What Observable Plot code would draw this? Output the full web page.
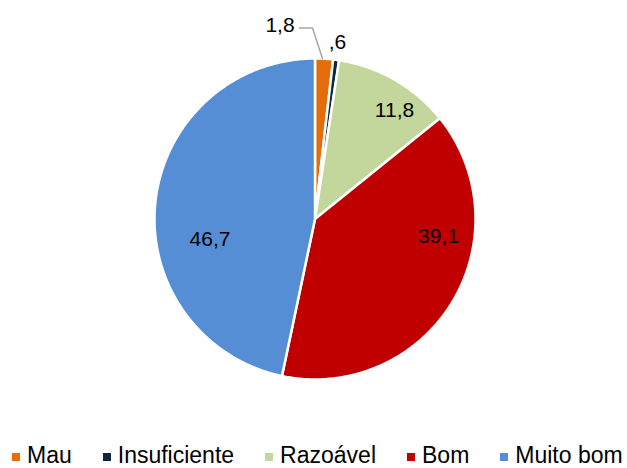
<!DOCTYPE html>
<html>
<head>
<meta charset="utf-8">
<script src="https://cdn.jsdelivr.net/npm/d3@7"></script>
<script src="https://cdn.jsdelivr.net/npm/@observablehq/plot@0.6"></script>
<style>
  html, body { margin: 0; padding: 0; background: #fff; }
  #wrap { position: relative; width: 627px; height: 468px; overflow: hidden; font-family: "Liberation Sans", Arial, sans-serif; }
  #legend { position: absolute; left: 12px; top: 442px; width: max-content; height: 26px; line-height: 26px; display: flex; align-items: center; font-size: 23px; color: #000; white-space: nowrap; }
  #legend .item { display: flex; align-items: center; flex-shrink: 0; margin-right: 31px; }
  #legend .item:last-child { margin-right: 0; }
  #legend .sw { width: 8px; height: 8px; margin-right: 7px; margin-top: 4px; flex-shrink: 0; }
</style>
</head>
<body>
<div id="wrap">
  <div id="chart"></div>
  <div id="legend"></div>
</div>
<script>
// ---- data ----
const categories = ["Mau", "Insuficiente", "Razoável", "Bom", "Muito bom"];
const values = [1.8, 0.6, 11.8, 39.1, 46.7];
const valueLabels = ["1,8", ",6", "11,8", "39,1", "46,7"];
const colors = ["#E46C0A", "#10253F", "#C3D69B", "#C00000", "#558ED5"];

// ---- layout ----
const W = 627, H = 440;
const cx = 314.5, cy = 218.5, R = 160.5;
// label placement (pixel offsets from the pie centre, y up), as moved in the original
const labelOffset = {
  "Mau": [-35, 194],
  "Insuficiente": [22.5, 177],
  "Razoável": [79.5, 108.5],
  "Bom": [123.5, -17],
  "Muito bom": [-105, -20.5]
};

const pie = d3.pie().sort(null).value(d => d)(values);

// slice polygons in pie-centred coordinates (y up)
const slicePts = [];
pie.forEach((p, i) => {
  const cat = categories[i];
  slicePts.push({cat, x: 0, y: 0});
  const n = Math.max(2, Math.ceil((p.endAngle - p.startAngle) / (Math.PI / 360)));
  for (let k = 0; k <= n; k++) {
    const a = p.startAngle + (p.endAngle - p.startAngle) * k / n;
    slicePts.push({cat, x: R * Math.sin(a), y: R * Math.cos(a)});
  }
  slicePts.push({cat, x: 0, y: 0});
});

const labels = categories.map((c, i) => ({cat: c, text: valueLabels[i], x: labelOffset[c][0], y: labelOffset[c][1]}));

// leader line for the small "Mau" slice: label right edge -> slice mid-arc
const mau = pie[0];
const midA = (mau.startAngle + mau.endAngle) / 2;
const lo = labelOffset["Mau"];
const leader = [
  {x: lo[0] + 19.5, y: lo[1] - 3},
  {x: lo[0] + 32.5, y: lo[1] - 3},
  {x: R * Math.sin(midA) - 1.5, y: R * Math.cos(midA)}
];

const plot = Plot.plot({
  width: W,
  height: H,
  margin: 0,
  x: {domain: [-cx, W - cx], range: [0, W], axis: null},
  y: {domain: [-(H - cy), cy], range: [H, 0], axis: null},
  color: {domain: categories, range: colors},
  style: {background: "transparent", fontFamily: "'Liberation Sans', Arial, sans-serif"},
  marks: [
    Plot.line(slicePts, {x: "x", y: "y", z: "cat", fill: "cat", stroke: "#fff", strokeWidth: 2.5, strokeLinejoin: "round", curve: "linear"}),
    Plot.line(leader, {x: "x", y: "y", stroke: "#A6A6A6", strokeWidth: 1.5}),
    Plot.text(labels, {x: "x", y: "y", text: "text", fontSize: 21, fill: "#000", textAnchor: "middle", lineAnchor: "middle"})
  ]
});
document.getElementById("chart").appendChild(plot);

// legend
const legend = document.getElementById("legend");
categories.forEach((c, i) => {
  const it = document.createElement("div");
  it.className = "item";
  const sw = document.createElement("span");
  sw.className = "sw";
  sw.style.background = colors[i];
  const t = document.createElement("span");
  t.textContent = c;
  it.appendChild(sw);
  it.appendChild(t);
  legend.appendChild(it);
});
</script>
</body>
</html>
